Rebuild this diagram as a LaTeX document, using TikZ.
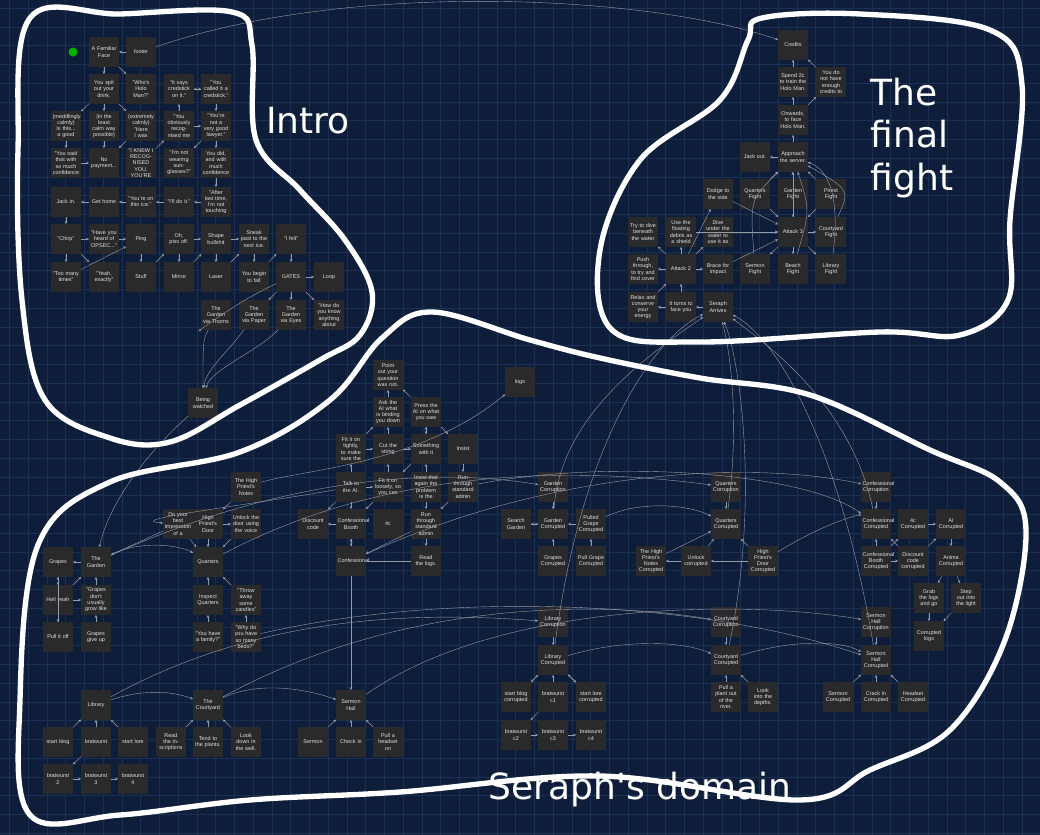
\documentclass[tikz,border=0pt]{standalone}
\usepackage{fontspec}
\setmainfont{Liberation Sans}
\newfontfamily\hand{DejaVu Sans}
\usetikzlibrary{arrows.meta}
\definecolor{bgc}{RGB}{14,30,58}
\definecolor{gridc}{RGB}{28,48,84}
\definecolor{boxc}{RGB}{42,42,44}
\definecolor{edgec}{RGB}{150,155,165}
\tikzset{
 box/.style={fill=boxc,minimum width=22pt,minimum height=22pt,text width=20pt,align=center,inner sep=0.5pt,text=white!88!black,font=\fontsize{4.1}{4.7}\selectfont},
 e/.style={draw=edgec,line width=0.3pt,-{Stealth[length=2.2pt,width=2pt]}},
 blob/.style={draw=white,line width=4pt,line join=round},
 lab/.style={text=white,font=\hand\fontsize{27}{32}\selectfont,align=left}
}
\newcommand\nd[4]{\node[box] (#1) at (#2,#3) {#4};}
\begin{document}
\begin{tikzpicture}[x=0.75pt,y=-0.75pt]
\useasboundingbox (0,0) rectangle (1040,835);
\fill[bgc] (0,0) rectangle (1040,835);
\foreach \x in {9.4,28.15,...,1040} \draw[gridc,line width=0.3pt] (\x,0) -- (\x,835);
\foreach \y in {8,26.75,...,835} \draw[gridc,line width=0.3pt] (0,\y) -- (1040,\y);
% ---------- Intro ----------
\fill[green!70!black] (73,52) circle (4.5);
\nd{a1}{104}{52}{A Familiar Face}
\nd{ft}{141}{52}{footer}
\nd{b1}{104}{89}{You spit out your drink.}
\nd{b2}{141}{89}{"Who's Holo Man?"}
\nd{b4}{179}{89}{"It says credstick on it."}
\nd{b5}{216}{89}{"You called it a credstick."}
\nd{c0}{66}{126}{(meddlingly calmly) Is this... a good}
\nd{c1}{104}{126}{(in the least calm way possible)}
\nd{c2}{141}{126}{(extremely calmly) "Here I was}
\nd{c4}{179}{126}{"You obviously recognised me}
\nd{c5}{216}{126}{"You're not a very good lawyer."}
\nd{d0}{66}{163}{"You said that with so much confidence}
\nd{d1}{104}{163}{No payment...}
\nd{d2}{141}{163}{"I KNEW I RECOGNISED YOU, YOU'RE}
\nd{d4}{179}{163}{"I'm not wearing sunglasses?"}
\nd{d5}{216}{163}{You did, and with much confidence}
\nd{e0}{66}{202}{Jack in.}
\nd{e1}{104}{202}{Get home}
\nd{e2}{141}{202}{"You're on thin ice."}
\nd{e4}{179}{202}{"I'll do it."}
\nd{e5}{216}{202}{"After last time, I'm not touching}
\nd{f0}{66}{239}{"Chirp"}
\nd{f1}{104}{239}{"Have you heard of OPSEC..."}
\nd{f2}{141}{239}{Ping}
\nd{f3}{179}{239}{Oh, piss off.}
\nd{f4}{216}{239}{Shape bullshit}
\nd{f5}{254}{239}{Sneak past to the next ice.}
\nd{f6}{291}{239}{"I felt"}
\nd{g0}{66}{277}{"Too many times"}
\nd{g1}{104}{277}{"Yeah, exactly"}
\nd{g2}{141}{277}{Stuff}
\nd{g3}{179}{277}{Mirror}
\nd{g4}{216}{277}{Laser}
\nd{g5}{254}{277}{You begin to fall}
\nd{g6}{291}{277}{GATES}
\nd{g7}{329}{277}{Loop}
\nd{h4}{216}{315}{The Garden via Thorns}
\nd{h5}{254}{315}{The Garden via Paper}
\nd{h6}{291}{315}{The Garden via Eyes}
\nd{h7}{329}{315}{"How do you know anything about}
\nd{bw}{203}{403}{Being watched}
\foreach \a/\b in {a1/b1,a1/b2,ft/a1,b1/c0,b1/c1,b1/c2,c0/d0,c1/d1,c2/d1,d0/d1,d2/c4,c4/b4,c4/c5,b4/b5,b5/b4,b5/c5,c5/d4,c5/d5,d5/e5,e5/e4,e4/e2,e2/e1,e1/e0,e0/f0,f0/f1,f0/g0,f0/g1,f1/f2,g0/f2,f2/g2,g2/f3,f3/f4,f3/g3,g3/f4,f4/f5,g4/f5,f5/g5,g5/f6,f6/g6,g6/g7,g6/h5,g6/h6,g6/h7,f4/g4}
  \draw[e] (\a) -- (\b);
\draw[e] (g6) .. controls (240,300) and (200,330) .. (h4);
\draw[e] (h4) .. controls (203,340) .. (bw);
\draw[e] (h5) .. controls (230,350) and (205,370) .. (bw);
\draw[e] (h6) .. controls (260,350) and (210,370) .. (bw);
% ---------- Final fight ----------
\nd{cr}{793}{45}{Credits}
\nd{sp}{793}{82}{Spend 2c to train the Holo Man.}
\nd{yd}{831}{82}{You do not have enough credits to}
\nd{on}{793}{120}{Onwards, to face Holo Man.}
\nd{jo}{755}{157}{Jack out.}
\nd{ap}{793}{157}{Approach the server.}
\nd{dg}{718}{194}{Dodge to the side}
\nd{qf}{755}{194}{Quarters Fight}
\nd{gf}{793}{194}{Garden Fight}
\nd{pf}{831}{194}{Priest Fight}
\nd{td}{643}{232}{Try to dive beneath the water}
\nd{ud}{681}{232}{Use the floating debris as a shield}
\nd{dv}{718}{232}{Dive under the water to use it as}
\nd{a3}{793}{232}{Attack 3}
\nd{cf}{831}{232}{Courtyard Fight}
\nd{pt}{643}{269}{Push through, to try and find cover}
\nd{a2}{681}{269}{Attack 2}
\nd{bi}{718}{269}{Brace for impact}
\nd{sf}{755}{269}{Sermon Fight}
\nd{bf}{793}{269}{Beach Fight}
\nd{lf}{831}{269}{Library Fight}
\nd{rx}{643}{307}{Relax and conserve your energy}
\nd{tf}{681}{307}{It turns to face you}
\nd{sa}{718}{307}{Seraph Arrives}
\draw[e] (ft) .. controls (350,-20) and (650,-5) .. (cr);
\foreach \a/\b in {sp/cr,yd/cr,on/sp,on/yd,ap/on,ap/jo,qf/ap,gf/ap,pf/ap,a3/ap,a3/cf,a3/sf,a3/bf,a3/lf,dg/a3,dv/a3,bi/a3,a2/dg,a2/ud,a2/dv,a2/bi,a2/td,a2/pt,tf/a2,tf/rx,sa/tf,rx/a2,qf/a3,gf/a3,pf/a3,ud/a3}
  \draw[e] (\a) -- (\b);
\draw[e] (sf) .. controls (750,200) .. (ap);
\draw[e] (bf) .. controls (810,210) .. (ap);
\draw[e] (lf) .. controls (840,200) and (830,170) .. (ap);
\draw[e] (cf) .. controls (850,190) .. (ap);
% ---------- Central ----------
\nd{po}{388}{375}{Point out your question was not.}
\nd{aa}{388}{412}{Ask the AI what is binding you down}
\nd{pa}{426}{412}{Press the AI on what you saw}
\nd{ft2}{351}{449}{Fit it on tightly, to make sure the}
\nd{cs}{388}{449}{Cut the string}
\nd{sw}{426}{449}{Something with it}
\nd{is}{463}{449}{Insist}
\nd{ta}{351}{487}{Talk to the AI.}
\nd{fl}{388}{487}{Fit it on loosely, so you can}
\nd{it}{426}{487}{Insist that again the problem is the}
\nd{ra}{463}{487}{Run through standard admin}
\nd{dc}{313}{524}{Discount code}
\nd{cb}{351}{524}{Confessional Booth}
\nd{fc}{388}{524}{4c}
\nd{rb}{426}{524}{Run through standard admin}
\nd{cn}{351}{561}{Confessional}
\nd{rl}{426}{561}{Read the logs.}
\nd{lg}{520}{382}{logs}
\foreach \a/\b in {aa/po,pa/po,ft2/aa,cs/aa,sw/pa,pa/is,ft2/cs,cs/sw,ta/ft2,ta/fl,fl/cs,it/sw,is/ra,ta/dc,ta/cb,cb/dc,cb/cn,cn/cb,fl/cb,it/rb,rb/rl,rb/cn,rl/cn,ra/rb,sw/fl,pa/sw}
  \draw[e] (\a) -- (\b);
% ---------- Left ----------
\nd{gp}{58}{562}{Grapes}
\nd{tg}{96}{562}{The Garden}
\nd{hy}{58}{600}{Hell yeah}
\nd{gd}{96}{600}{"Grapes don't usually grow like}
\nd{pi}{58}{637}{Pull it off}
\nd{gu}{96}{637}{Grapes give up}
\nd{hn}{246}{487}{The High Priest's Notes}
\nd{db}{178}{524}{Do your best impression of a}
\nd{hd}{208}{524}{High Priest's Door}
\nd{ul}{246}{524}{Unlock the door using the voice}
\nd{qu}{208}{562}{Quarters}
\nd{iq}{208}{600}{Inspect Quarters}
\nd{ta2}{246}{600}{"Throw away some candles"}
\nd{yf}{208}{637}{"You have a family?"}
\nd{wb}{246}{637}{"Why do you have so many beds?"}
\nd{lb}{96}{705}{Library}
\nd{cy}{208}{705}{The Courtyard}
\nd{sh}{351}{705}{Sermon Hall}
\nd{sb}{58}{742}{start blog}
\nd{bt}{96}{742}{bratwurst}
\nd{sl}{133}{742}{start lore}
\nd{ri}{171}{742}{Read the inscriptions}
\nd{tp}{208}{742}{Tend to the plants.}
\nd{lw}{246}{742}{Look down in the well.}
\nd{sm}{313}{742}{Sermon}
\nd{ci}{351}{742}{Check in}
\nd{ph}{388}{742}{Pull a headset on}
\nd{b2n}{58}{779}{bratwurst 2}
\nd{b3n}{96}{779}{bratwurst 3}
\nd{b4n}{133}{779}{bratwurst 4}
\foreach \a/\b in {tg/gp,gp/hy,hy/tg,gd/tg,hy/gd,hy/pi,gu/gd,pi/gp,db/tg,hn/hd,hd/qu,ul/qu,hd/ul,db/qu,iq/qu,ta2/qu,yf/iq,wb/ta2,sb/lb,bt/lb,sl/lb,b2n/b3n,b3n/b4n,bt/b2n,ri/cy,tp/cy,lw/cy,sm/sh,ci/sh,ph/sh,cn/sh}
  \draw[e] (\a) -- (\b);
\draw[e] (bw) .. controls (150,450) and (110,500) .. (tg);
\draw[e] (tg) .. controls (140,540) and (180,545) .. (qu);
\draw[e] (lb) .. controls (140,690) and (170,690) .. (cy);
\draw[e] (cy) .. controls (260,680) and (310,690) .. (sh);
\draw[e] (hn) .. controls (300,470) and (420,465) .. (lg);
% ---------- Corruption ----------
\nd{gc}{553}{487}{Garden Corruption}
\nd{sg}{516}{524}{Search Garden}
\nd{gcd}{553}{524}{Garden Corrupted}
\nd{pgc}{591}{524}{Pulled Grape Corrupted}
\nd{grc}{553}{561}{Grapes Corrupted}
\nd{pgr}{591}{561}{Pull Grape Corrupted}
\nd{qc}{726}{487}{Quarters Corruption}
\nd{qcd}{726}{524}{Quarters Corrupted}
\nd{hnc}{651}{561}{The High Priest's Notes Corrupted}
\nd{uc}{696}{561}{Unlock corrupted}
\nd{hdc}{763}{561}{High Priest's Door Corrupted}
\nd{lc}{553}{622}{Library Corruption}
\nd{lcd}{553}{660}{Library Corrupted}
\nd{cc}{726}{622}{Courtyard Corruption}
\nd{ccd}{726}{660}{Courtyard Corrupted}
\nd{sbc}{516}{697}{start blog corrupted}
\nd{bc1}{553}{697}{bratwurst c1}
\nd{slc}{591}{697}{start lore corrupted}
\nd{pp}{726}{697}{Pull a plant out of the river.}
\nd{ld}{763}{697}{Look into the depths.}
\nd{bc2}{516}{735}{bratwurst c2}
\nd{bc3}{553}{735}{bratwurst c3}
\nd{bc4}{591}{735}{bratwurst c4}
\nd{kc}{876}{487}{Confessional Corruption}
\nd{kcd}{876}{524}{Confessional Corrupted}
\nd{fcc}{913}{524}{4c Corrupted}
\nd{aic}{951}{524}{AI Corrupted}
\nd{kbc}{876}{561}{Confessional Booth Corrupted}
\nd{dcc}{913}{561}{Discount code corrupted}
\nd{anc}{951}{561}{Anima Corrupted}
\nd{gl}{929}{598}{Grab the logs and go}
\nd{so}{966}{598}{Step out into the light}
\nd{cl}{929}{636}{Corrupted logs}
\nd{shc}{876}{622}{Sermon Hall Corruption}
\nd{shd}{876}{660}{Sermon Hall Corrupted}
\nd{smc}{838}{697}{Sermon Corrupted}
\nd{cic}{876}{697}{Crack in Corrupted}
\nd{hsc}{913}{697}{Headset Corrupted}
\foreach \a/\b in {gc/gcd,sg/gcd,gcd/sg,pgc/gcd,grc/gcd,pgr/pgc,qc/qcd,hnc/qcd,uc/hnc,hdc/uc,hdc/qcd,uc/qcd,lc/lcd,sbc/lcd,bc1/lcd,slc/lcd,lcd/sbc,lcd/slc,bc2/bc3,bc3/bc4,bc1/bc2,cc/ccd,pp/ccd,ld/ccd,kc/kcd,kbc/kcd,dcc/kcd,kbc/dcc,kbc/fcc,fcc/aic,dcc/aic,aic/anc,anc/gl,anc/so,gl/cl,so/cl,shc/shd,smc/shd,cic/shd,hsc/shd}
  \draw[e] (\a) -- (\b);
% long links
\draw[e] (tg) .. controls (300,470) and (450,470) .. (gc);
\draw[e] (qu) .. controls (400,460) and (600,470) .. (qc);
\draw[e] (cn) .. controls (550,470) and (750,460) .. (kc);
\draw[e] (lb) .. controls (250,620) and (400,610) .. (lc);
\draw[e] (cy) .. controls (400,600) and (600,600) .. (cc);
\draw[e] (sh) .. controls (500,600) and (750,600) .. (shc);
\draw[e] (ta) .. controls (250,505) and (120,520) .. (db);
\draw[e] (ra) .. controls (600,460) and (800,470) .. (kcd);
\draw[e] (wb) .. controls (450,590) and (700,600) .. (shd);
\draw[e] (pgc) .. controls (640,500) and (690,505) .. (qcd);
\draw[e] (hdc) .. controls (830,520) and (860,515) .. (kcd);
\draw[e] (lcd) .. controls (620,640) and (680,640) .. (ccd);
\draw[e] (ccd) .. controls (790,640) and (840,640) .. (shd);
\draw[e] (gcd) .. controls (560,420) and (640,360) .. (sa);
\draw[e] (qcd) .. controls (740,420) and (730,350) .. (sa);
\draw[e] (ccd) .. controls (760,500) and (740,360) .. (sa);
\draw[e] (kcd) .. controls (850,400) and (760,340) .. (sa);
\draw[e] (shd) .. controls (840,450) and (780,340) .. (sa);
\draw[e] (lcd) .. controls (580,450) and (650,340) .. (sa);
% ---------- outlines ----------
\draw[blob] plot[smooth cycle,tension=0.6] coordinates {(30,18) (120,14) (232,12) (252,45) (256,140) (300,190) (345,240) (372,292) (360,335) (320,360) (240,405) (170,442) (110,438) (45,400) (22,300) (18,150)};
\draw[blob] plot[smooth cycle,tension=0.6] coordinates {(762,18) (860,14) (990,30) (1022,85) (1010,220) (1008,300) (960,335) (880,332) (700,342) (612,330) (600,250) (640,160) (720,100) (748,40)};
\draw[blob] plot[smooth cycle,tension=0.6] coordinates {(30,815) (20,700) (38,545) (110,482) (240,452) (330,400) (382,338) (432,312) (530,340) (600,358) (700,378) (810,395) (930,450) (1000,482) (1026,530) (1005,640) (950,730) (870,770) (800,800) (600,776) (400,792) (250,800) (120,815)};
\node[lab] at (308,121) {Intro};
\node[lab] at (912,138) {The\\final\\fight};
\node[lab] at (640,790) {Seraph's domain};
\end{tikzpicture}
\end{document}
